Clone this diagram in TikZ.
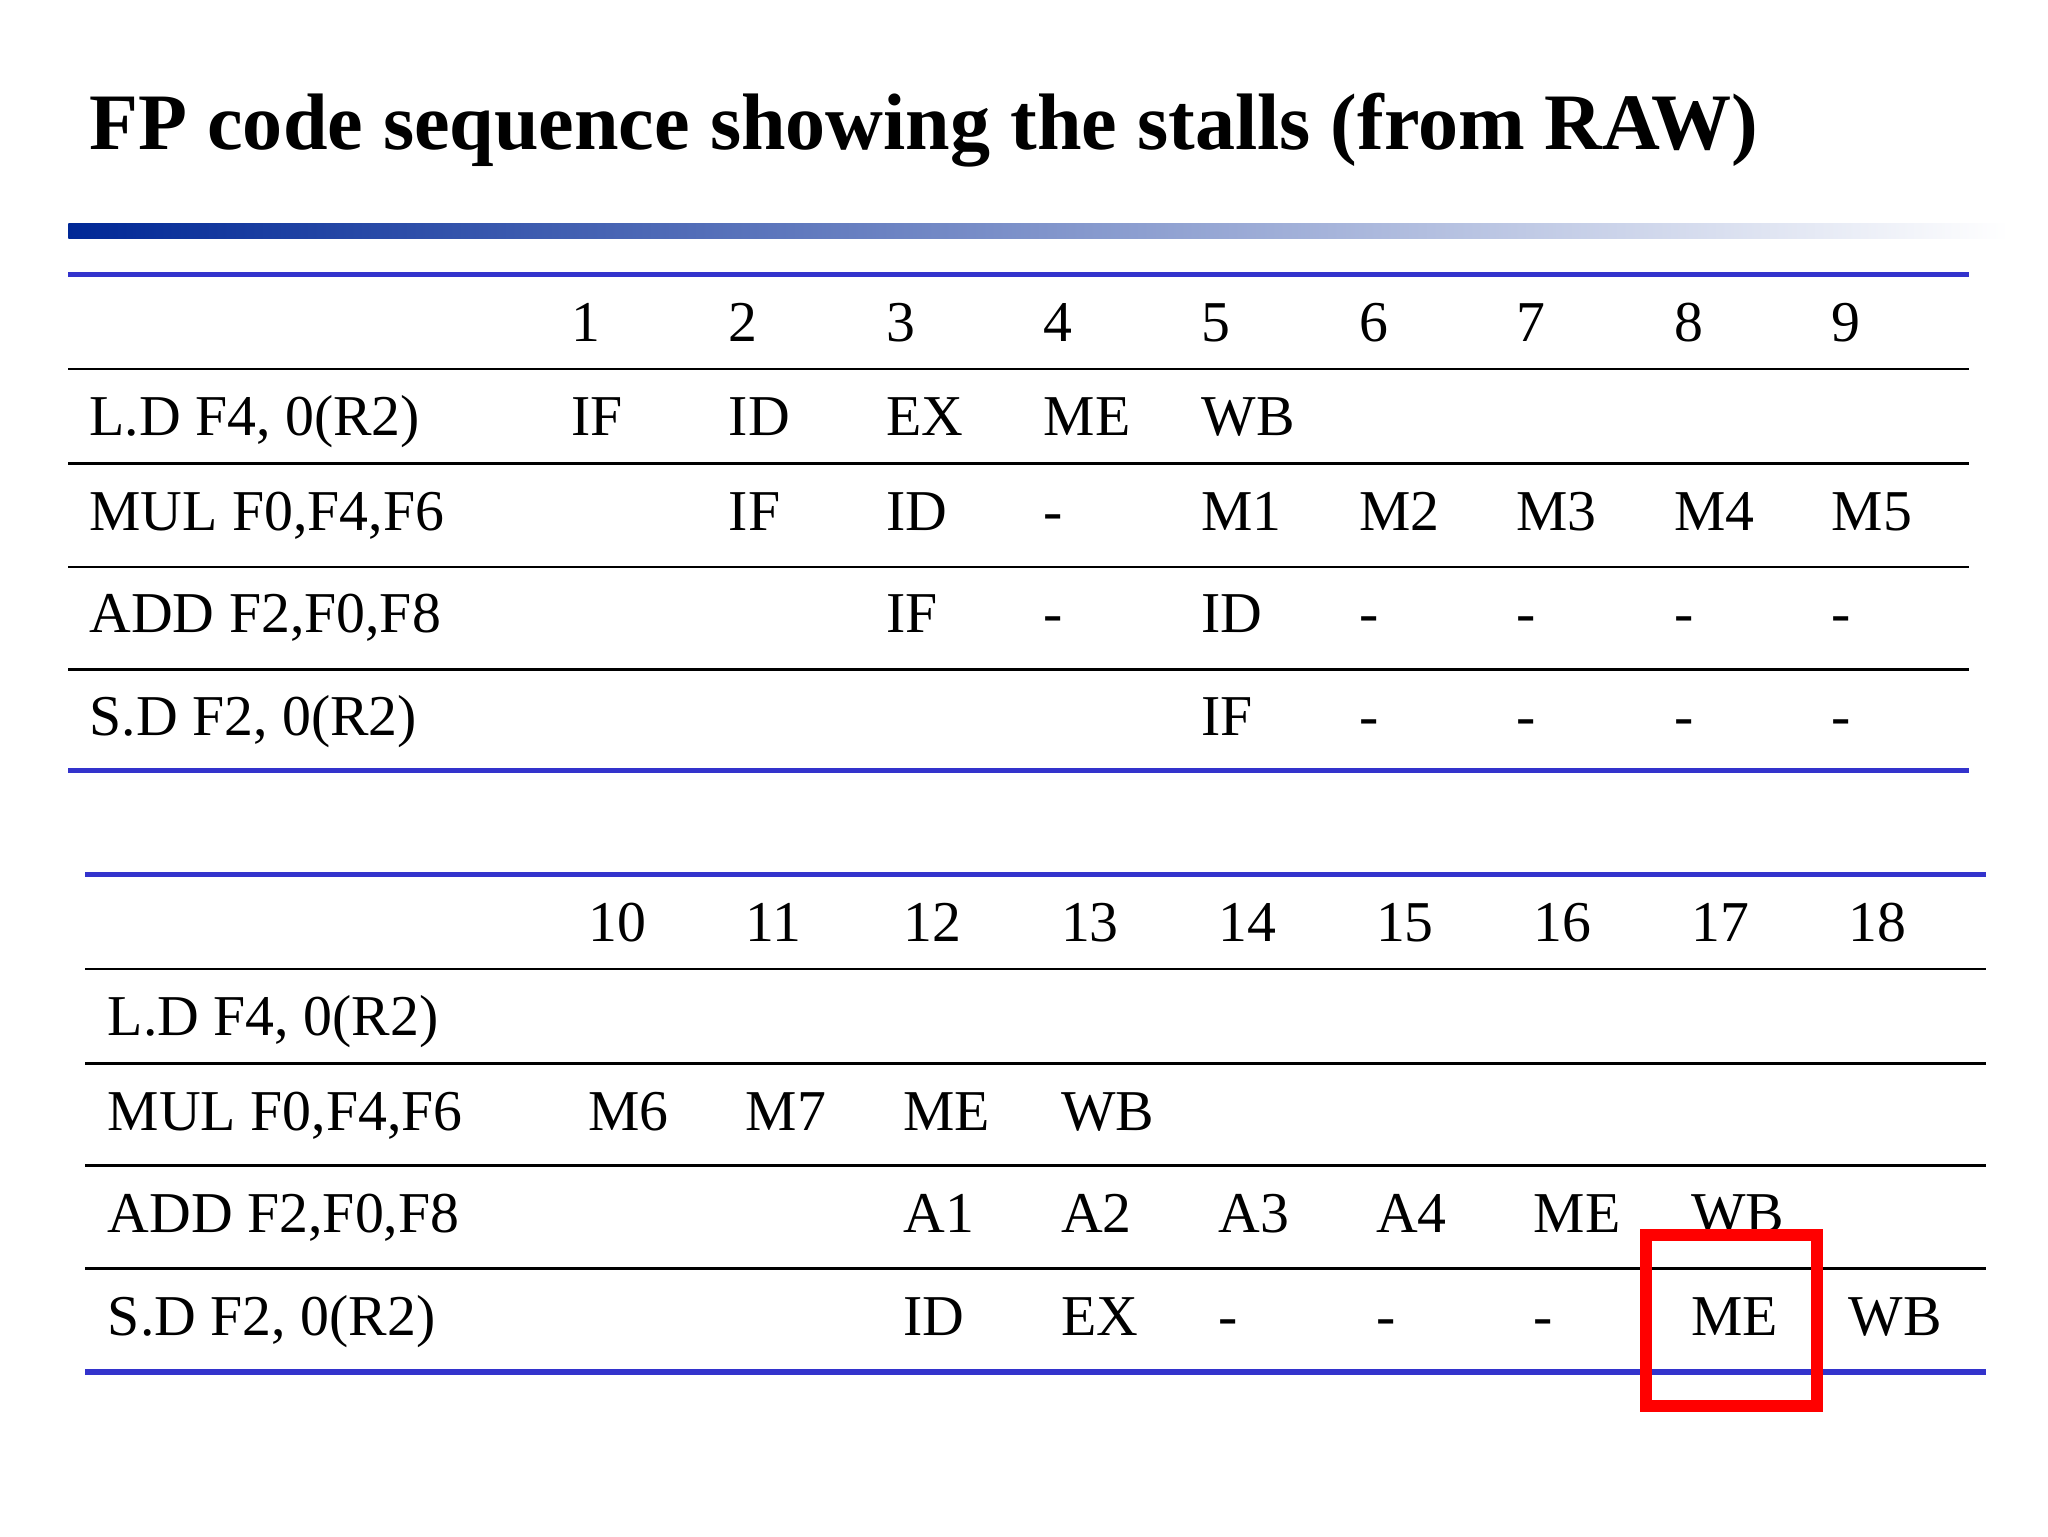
\documentclass[tikz,border=0pt]{standalone}
\usepackage{fontspec}
\setmainfont{Liberation Serif}
\begin{document}
\begin{tikzpicture}[x=1pt,y=-1pt,
  cell/.style={anchor=base west,inner sep=0pt,font=\fontsize{44}{46}\selectfont},
  blueline/.style={line width=4pt,draw={rgb,255:red,51;green,51;blue,204}},
  blackline/.style={line width=2pt,draw=black}]
\useasboundingbox (0,0) rectangle (1560,1170);
\node[anchor=base west,inner sep=0pt,font=\fontsize{61}{63}\selectfont\bfseries] (title) at (68,114) {FP code sequence showing the stalls (from RAW)};
\shade[left color={rgb,255:red,0;green,40;blue,150},right color=white] (52,170) rectangle (1530,182);
% top table
\draw[blueline] (52,209) -- (1500,209);
\draw[blueline] (52,587) -- (1500,587);
\foreach \yy in {281,353,432,510} \draw[blackline] (52,\yy) -- (1500,\yy);
\foreach \t [count=\i] in {1,...,9} \node[cell] (h\i) at ({435+120*(\i-1)},260) {\t};
\node[cell] (l1) at (68,332) {L.D F4, 0(R2)};
\node[cell] (l2) at (68,404) {MUL F0,F4,F6};
\node[cell] (l3) at (68,482) {ADD F2,F0,F8};
\node[cell] (l4) at (68,560) {S.D F2, 0(R2)};
\foreach \t [count=\i] in {IF,ID,EX,ME,WB} \node[cell] (a\i) at ({435+120*(\i-1)},332) {\t};
\foreach \t [count=\i from 2] in {IF,ID,-,M1,M2,M3,M4,M5} \node[cell] (b\i) at ({435+120*(\i-1)},404) {\t};
\foreach \t [count=\i from 3] in {IF,-,ID,-,-,-,-} \node[cell] (c\i) at ({435+120*(\i-1)},482) {\t};
\foreach \t [count=\i from 5] in {IF,-,-,-,-} \node[cell] (d\i) at ({435+120*(\i-1)},560) {\t};
% bottom table
\draw[blueline] (65,666) -- (1513,666);
\draw[blueline] (65,1045) -- (1513,1045);
\foreach \yy in {738,810,888,966} \draw[blackline] (65,\yy) -- (1513,\yy);
\foreach \t [count=\i] in {10,...,18} \node[cell] (k\i) at ({448+120*(\i-1)},717) {\t};
\node[cell] (m1) at (82,789) {L.D F4, 0(R2)};
\node[cell] (m2) at (82,861) {MUL F0,F4,F6};
\node[cell] (m3) at (82,939) {ADD F2,F0,F8};
\node[cell] (m4) at (82,1017) {S.D F2, 0(R2)};
\foreach \t [count=\i] in {M6,M7,ME,WB} \node[cell] (p\i) at ({448+120*(\i-1)},861) {\t};
\foreach \t [count=\i from 3] in {A1,A2,A3,A4,ME,WB} \node[cell] (q\i) at ({448+120*(\i-1)},939) {\t};
\foreach \t [count=\i from 3] in {ID,EX,-,-,-,ME,WB} \node[cell] (r\i) at ({448+120*(\i-1)},1017) {\t};
\draw[red,line width=9pt] (1254,941) rectangle (1384,1071);
\end{tikzpicture}
\end{document}
